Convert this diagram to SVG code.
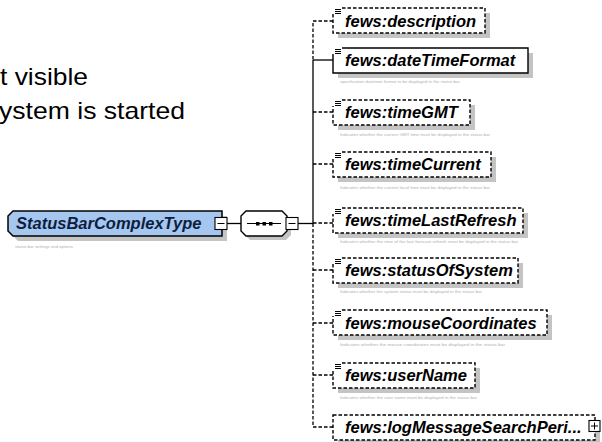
<svg xmlns="http://www.w3.org/2000/svg" width="602" height="442" viewBox="0 0 602 442">
<style>
.bg{fill:#fff}
.big{font-family:"Liberation Sans",Arial,sans-serif;font-size:24px;fill:#000}
.el{font-family:"Liberation Sans",Arial,sans-serif;font-size:16.5px;font-weight:bold;font-style:italic;fill:#000}
.ct{font-family:"Liberation Sans",Arial,sans-serif;font-size:16.5px;font-weight:bold;font-style:italic;fill:#0e1e3e}
.ann{font-family:"Liberation Sans",Arial,sans-serif;font-size:4px;fill:#b0b0b0}
.sh{fill:#c4c4c4}
.box{fill:#fff;stroke:#000;stroke-width:1.4}
.opt{fill:#fff;stroke:#000;stroke-width:1.4;stroke-dasharray:3.5 2}
.icon{stroke:#000;stroke-width:1}
.cn{fill:none;stroke:#000;stroke-width:1.3}
.cd{fill:none;stroke:#000;stroke-width:1.3;stroke-dasharray:3.5 2}
.pm{fill:#fff;stroke:#000;stroke-width:1.1}
</style>
<rect class="bg" x="0" y="0" width="602" height="442"/>
<text class="big" x="0" y="85" textLength="88" lengthAdjust="spacingAndGlyphs">t visible</text>
<text class="big" x="-1" y="119" textLength="186" lengthAdjust="spacingAndGlyphs">ystem is started</text>

<g id="connectors">
  <line class="cn" x1="227" y1="223.5" x2="241" y2="223.5"/>
  <line class="cn" x1="298" y1="223.5" x2="313" y2="223.5"/>
  <path class="cd" d="M333 21 H313 V60"/>
  <path class="cn" d="M313 60 V223.5"/>
  <line class="cn" x1="313" y1="60" x2="333" y2="60"/>
  <path class="cd" d="M313 223.5 V427 H333"/>
  <line class="cd" x1="313" y1="112" x2="333" y2="112"/>
  <line class="cd" x1="313" y1="164" x2="333" y2="164"/>
  <line class="cd" x1="313" y1="223" x2="333" y2="223"/>
  <line class="cd" x1="313" y1="270" x2="333" y2="270"/>
  <line class="cd" x1="313" y1="323" x2="333" y2="323"/>
  <line class="cd" x1="313" y1="375" x2="333" y2="375"/>
</g>

<g id="StatusBarComplexType">
  <path class="sh" d="M18 216 H227 V241 H18 L13 236 V221 Z"/>
  <path d="M13 211 H222 V236 H13 L8 231 V216 Z" fill="#a5c6ef" stroke="#000" stroke-width="1.5"/>
  <text class="ct" x="16" y="229">StatusBarComplexType</text>
  <rect class="pm" x="215" y="217.5" width="12" height="12"/>
  <line class="icon" x1="217.5" y1="223.5" x2="224.5" y2="223.5"/>
  <text class="ann" x="15" y="248" textLength="58" lengthAdjust="spacingAndGlyphs">status bar settings and options</text>
</g>

<g id="sequence">
  <path class="sh" d="M250 215 H286 L291 220 V235 L286 240 H250 L245 235 V220 Z"/>
  <path class="box" d="M246 211 H282 L287 216 V231 L282 236 H246 L241 231 V216 Z"/>
  <line class="icon" x1="247" y1="223.5" x2="281" y2="223.5"/>
  <rect x="256" y="222" width="3.5" height="3.5" fill="#000"/>
  <rect x="262.5" y="222" width="3.5" height="3.5" fill="#000"/>
  <rect x="269" y="222" width="3.5" height="3.5" fill="#000"/>
  <rect class="pm" x="286" y="217.5" width="12" height="12"/>
  <line class="icon" x1="288.5" y1="223.5" x2="295.5" y2="223.5"/>
</g>

<g id="description">
  <rect class="sh" x="338" y="13" width="152" height="25"/>
  <rect x="333" y="8" width="152" height="25" fill="#fff"/>
  <path class="opt" d="M342 8 H485 V33 H333 V14"/>
  <path class="icon" d="M335 9.5 H341 M335 11.5 H341 M335 13.5 H341"/>
  <text class="el" x="345" y="27">fews:description</text>
</g>

<g id="dateTimeFormat">
  <rect class="sh" x="338" y="53" width="195" height="25"/>
  <rect x="333" y="48" width="195" height="25" fill="#fff"/>
  <path class="box" d="M342 48 H528 V73 H333 V54"/>
  <path class="icon" d="M335 49.5 H341 M335 51.5 H341 M335 53.5 H341"/>
  <text class="el" x="345" y="66">fews:dateTimeFormat</text>
  <text class="ann" x="340" y="83" textLength="120" lengthAdjust="spacingAndGlyphs">specification datetime format to be displayed in the status bar</text>
</g>

<g id="timeGMT">
  <rect class="sh" x="338" y="105" width="137" height="25"/>
  <rect x="333" y="100" width="137" height="25" fill="#fff"/>
  <path class="opt" d="M342 100 H470 V125 H333 V106"/>
  <path class="icon" d="M335 101.5 H341 M335 103.5 H341 M335 105.5 H341"/>
  <text class="el" x="345" y="118">fews:timeGMT</text>
  <text class="ann" x="340" y="136" textLength="150" lengthAdjust="spacingAndGlyphs">Indicates whether the current GMT time must be displayed in the status bar</text>
</g>

<g id="timeCurrent">
  <rect class="sh" x="338" y="157" width="158" height="25"/>
  <rect x="333" y="152" width="158" height="25" fill="#fff"/>
  <path class="opt" d="M342 152 H491 V177 H333 V158"/>
  <path class="icon" d="M335 153.5 H341 M335 155.5 H341 M335 157.5 H341"/>
  <text class="el" x="345" y="170">fews:timeCurrent</text>
  <text class="ann" x="340" y="189" textLength="150" lengthAdjust="spacingAndGlyphs">Indicates whether the current local time must be displayed in the status bar</text>
</g>

<g id="timeLastRefresh">
  <rect class="sh" x="338" y="213" width="190" height="25"/>
  <rect x="333" y="208" width="190" height="25" fill="#fff"/>
  <path class="opt" d="M342 208 H523 V233 H333 V214"/>
  <path class="icon" d="M335 209.5 H341 M335 211.5 H341 M335 213.5 H341"/>
  <text class="el" x="345" y="226">fews:timeLastRefresh</text>
  <text class="ann" x="340" y="243" textLength="178" lengthAdjust="spacingAndGlyphs">Indicates whether the time of the last forecast refresh must be displayed in the status bar</text>
</g>

<g id="statusOfSystem">
  <rect class="sh" x="338" y="263" width="185" height="25"/>
  <rect x="333" y="258" width="185" height="25" fill="#fff"/>
  <path class="opt" d="M342 258 H518 V283 H333 V264"/>
  <path class="icon" d="M335 259.5 H341 M335 261.5 H341 M335 263.5 H341"/>
  <text class="el" x="345" y="276">fews:statusOfSystem</text>
  <text class="ann" x="340" y="293" textLength="142" lengthAdjust="spacingAndGlyphs">Indicates whether the system status must be displayed in the status bar</text>
</g>

<g id="mouseCoordinates">
  <rect class="sh" x="338" y="315" width="214" height="25"/>
  <rect x="333" y="310" width="214" height="25" fill="#fff"/>
  <path class="opt" d="M342 310 H547 V335 H333 V316"/>
  <path class="icon" d="M335 311.5 H341 M335 313.5 H341 M335 315.5 H341"/>
  <text class="el" x="345" y="329">fews:mouseCoordinates</text>
  <text class="ann" x="340" y="346" textLength="165" lengthAdjust="spacingAndGlyphs">Indicates whether the mouse coordinates must be displayed in the status bar</text>
</g>

<g id="userName">
  <rect class="sh" x="338" y="368" width="142" height="25"/>
  <rect x="333" y="363" width="142" height="25" fill="#fff"/>
  <path class="opt" d="M342 363 H475 V388 H333 V369"/>
  <path class="icon" d="M335 364.5 H341 M335 366.5 H341 M335 368.5 H341"/>
  <text class="el" x="345" y="381">fews:userName</text>
  <text class="ann" x="340" y="399" textLength="137" lengthAdjust="spacingAndGlyphs">Indicates whether the user name must be displayed in the status bar</text>
</g>

<g id="logMessageSearchPeriod">
  <rect class="sh" x="338" y="420" width="262" height="25"/>
  <rect class="opt" x="333" y="415" width="262" height="25"/>
  <text class="el" x="345" y="433">fews:logMessageSearchPeri...</text>
  <rect class="pm" x="589" y="420.5" width="11" height="11"/>
  <path class="icon" d="M591 426 H598 M594.5 422.5 V429.5"/>
</g>
</svg>
